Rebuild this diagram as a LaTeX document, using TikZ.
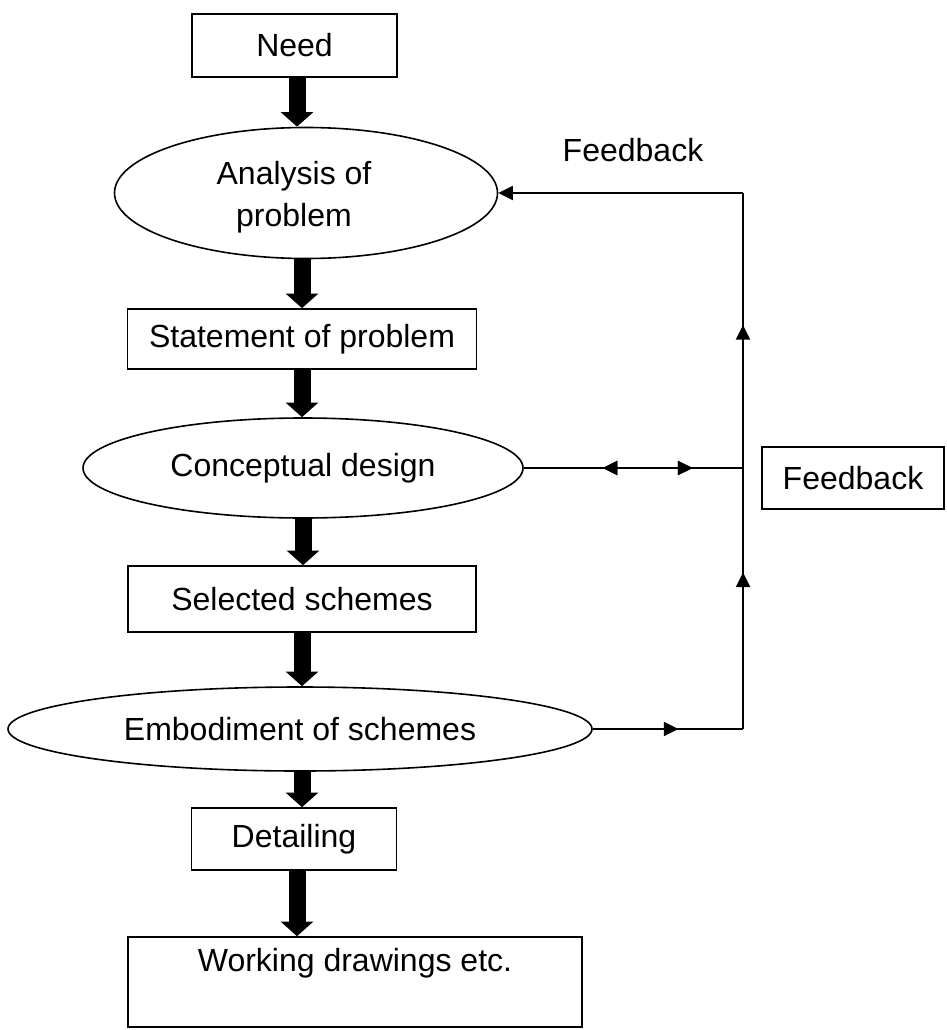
\documentclass[tikz,border=0pt]{standalone}
\usepackage{fontspec}
\setmainfont{Liberation Sans}
\usetikzlibrary{arrows.meta,shapes.geometric,decorations.markings}

\tikzset{
  every node/.style={font=\fontsize{24}{31.5}\selectfont, inner sep=0pt},
  stagebox/.style={draw, line width=1.2pt, rectangle},
  stageoval/.style={draw, line width=1.2pt, ellipse},
  bigarrow/.style={line width=12.75pt, line cap=butt,
    -{Triangle[width=24pt,length=11pt]}},
  conn/.style={line width=1.5pt},
  smalltip/.tip={Triangle[width=10.5pt,length=11pt]},
  tipat/.style={postaction={decorate}, decoration={markings,
    mark=at position #1 with {\arrow{smalltip}}}},
  backtipat/.style={postaction={decorate}, decoration={markings,
    mark=at position #1 with {\arrowreversed{smalltip}}}},
}

\begin{document}
\begin{tikzpicture}[x=0.75pt,y=-0.75pt]
\useasboundingbox (0,0) rectangle (946,1030);

% main chain of design stages
\node (need) [stagebox, minimum width=153.75pt, minimum height=47.25pt] at (294.5,45.5) {Need};
\node (analysis) [stageoval, minimum width=287.25pt, minimum height=98.25pt] at (306,193) {};
\node (analysistext) [align=center] at (294,197) {Analysis of\\problem};
\node (statement) [stagebox, minimum width=261.75pt, minimum height=45pt] at (302,339) {Statement of problem};
\node (conceptual) [stageoval, minimum width=330pt, minimum height=75pt] at (303,468) {Conceptual design};
\node (selected) [stagebox, minimum width=261pt, minimum height=49.5pt] at (302,599) {Selected schemes};
\node (embodiment) [stageoval, minimum width=438pt, minimum height=63pt] at (300,729) {Embodiment of schemes};
\node (detailing) [stagebox, minimum width=153.75pt, minimum height=46.5pt] at (294,839) {Detailing};
\node (working) [stagebox, minimum width=340.5pt, minimum height=67.5pt] at (355,982) {};
\node (workingtext) at (355,963) {Working drawings etc.};

% feedback labels
\node (fbtext) at (633,150) {Feedback};
\node (fbbox) [stagebox, minimum width=136.5pt, minimum height=46.5pt] at (853,478) {Feedback};

% block arrows between stages
\draw[bigarrow] (need.south -| 297,0) -- (analysis.north -| 297,0);
\draw[bigarrow] (analysis.south -| statement.north) -- (statement.north);
\draw[bigarrow] (statement.south) -- (statement.south |- conceptual.north);
\draw[bigarrow] (conceptual.south) -- (conceptual.south |- selected.north);
\draw[bigarrow] (selected.south) -- (selected.south |- embodiment.north);
\draw[bigarrow] (embodiment.south -| selected.south) -- (selected.south |- detailing.north);
\draw[bigarrow] (detailing.south -| 297,0) -- (working.north -| 297,0);

% feedback loop
\coordinate (fbtop) at (743,193);
\coordinate (fbmid) at (743,468);
\coordinate (fbbot) at (743,729);

\draw[conn, tipat=0.6] (fbbot) -- (fbmid);
\draw[conn, tipat=0.52] (fbmid) -- (fbtop);
\draw[conn, -{smalltip}] (fbtop) -- (analysis.east);
\draw[conn, backtipat=0.36, tipat=0.77] (conceptual.east) -- (fbmid);
\draw[conn, tipat=0.57] (embodiment.east) -- (fbbot);
\end{tikzpicture}
\end{document}
